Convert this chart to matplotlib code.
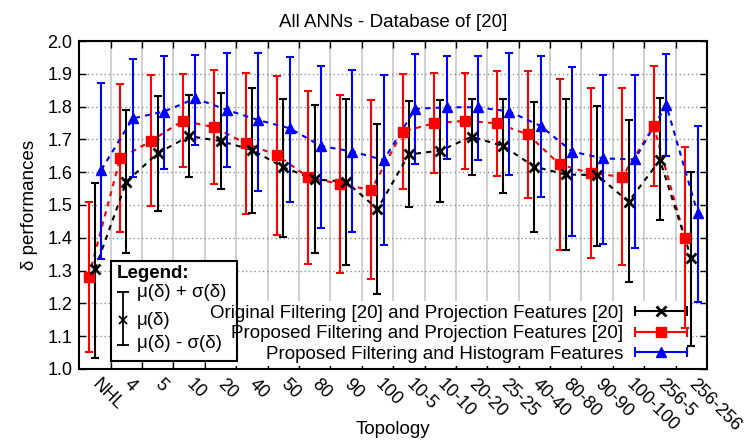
import matplotlib
matplotlib.use("Agg")
import matplotlib.pyplot as plt
import numpy as np
from matplotlib.lines import Line2D
from matplotlib.patches import Rectangle
from matplotlib.legend_handler import HandlerBase

plt.rcParams['font.family'] = ['Liberation Sans', 'DejaVu Sans']

categories = ['NHL', '4', '5', '10', '20', '40', '50', '80', '90', '100',
              '10-5', '10-10', '20-20', '25-25', '40-40', '80-80', '90-90',
              '100-100', '256-5', '256-256']

# Original Filtering [20] and Projection Features [20]
orig_mean = [1.304, 1.571, 1.658, 1.710, 1.695, 1.668, 1.615, 1.578, 1.571, 1.488,
             1.654, 1.666, 1.708, 1.680, 1.617, 1.593, 1.591, 1.510, 1.637, 1.337]
orig_hi = [1.566, 1.790, 1.833, 1.835, 1.842, 1.856, 1.822, 1.805, 1.822, 1.746,
           1.817, 1.820, 1.822, 1.822, 1.815, 1.822, 1.803, 1.759, 1.825, 1.602]
orig_lo = [1.035, 1.355, 1.482, 1.586, 1.549, 1.477, 1.401, 1.353, 1.317, 1.229,
           1.495, 1.510, 1.591, 1.536, 1.419, 1.363, 1.376, 1.266, 1.454, 1.070]

# Proposed Filtering and Projection Features [20]
prop_mean = [1.281, 1.642, 1.696, 1.757, 1.737, 1.688, 1.652, 1.584, 1.564, 1.546,
             1.724, 1.749, 1.757, 1.749, 1.715, 1.624, 1.597, 1.586, 1.741, 1.398]
prop_hi = [1.510, 1.869, 1.896, 1.899, 1.912, 1.903, 1.893, 1.849, 1.835, 1.820,
           1.899, 1.901, 1.903, 1.910, 1.909, 1.883, 1.858, 1.856, 1.924, 1.676]
prop_lo = [1.051, 1.417, 1.497, 1.615, 1.563, 1.472, 1.409, 1.319, 1.294, 1.274,
           1.549, 1.599, 1.609, 1.589, 1.520, 1.363, 1.337, 1.317, 1.559, 1.124]

# Proposed Filtering and Histogram Features
hist_mean = [1.607, 1.764, 1.785, 1.825, 1.790, 1.759, 1.734, 1.680, 1.663, 1.637,
             1.793, 1.798, 1.798, 1.785, 1.741, 1.663, 1.642, 1.639, 1.805, 1.475]
hist_hi = [1.873, 1.944, 1.955, 1.957, 1.962, 1.964, 1.952, 1.924, 1.912, 1.896,
           1.959, 1.954, 1.954, 1.964, 1.954, 1.920, 1.897, 1.897, 1.959, 1.741]
hist_lo = [1.334, 1.586, 1.611, 1.682, 1.615, 1.543, 1.508, 1.431, 1.419, 1.378,
           1.624, 1.639, 1.637, 1.591, 1.525, 1.405, 1.381, 1.370, 1.649, 1.205]

labels = ['Original Filtering [20] and Projection Features [20]',
          'Proposed Filtering and Projection Features [20]',
          'Proposed Filtering and Histogram Features']

FS = 13.5


class HandlerKeyBar(HandlerBase):
    # gnuplot style key sample: horizontal bar with end caps and the point marker
    def create_artists(self, legend, orig_handle, xdescent, ydescent,
                       width, height, fontsize, trans):
        c = orig_handle.get_color()
        y = height / 2 - ydescent
        x0, x1 = -xdescent, width - xdescent
        line = Line2D([x0, x1], [y, y], color=c, lw=1.5)
        caps = Line2D([x0, x1], [y, y], color=c, lw=0, marker='|', ms=7, mew=1.5)
        mark = Line2D([(x0 + x1) / 2], [y], color=c, lw=0,
                      marker=orig_handle.get_marker(),
                      ms=orig_handle.get_markersize(),
                      mew=orig_handle.get_markeredgewidth())
        for a in (line, caps, mark):
            a.set_transform(trans)
        return [line, caps, mark]


fig = plt.figure(figsize=(7.44, 4.41), dpi=100)
ax = fig.add_axes([0.1066, 0.1633, 0.8437, 0.7437])

x = np.arange(len(categories))
series = [
    (prop_mean, prop_lo, prop_hi, -0.2, '#ff0000', 's', 7.5, 1.0),
    (orig_mean, orig_lo, orig_hi, 0.0, '#000000', 'x', 6.5, 2.0),
    (hist_mean, hist_lo, hist_hi, 0.2, '#0000ff', '^', 7.5, 1.0),
]
handles = {}
for mean, lo, hi, off, col, mk, ms, mew in series:
    mean = np.array(mean)
    yerr = [mean - np.array(lo), np.array(hi) - mean]
    ax.errorbar(x + off, mean, yerr=yerr, fmt='none', ecolor=col, elinewidth=1.5,
                capsize=2.8, capthick=1.5, zorder=3)
    ax.plot(x + off, mean, color=col, lw=1.5, ls=(0, (2.5, 2.5)), zorder=3)
    ax.plot(x + off, mean, color=col, lw=0, marker=mk, ms=ms, mew=mew, zorder=4)
    handles[col] = Line2D([], [], color=col, marker=mk, ms=ms, mew=mew)

ax.set_xlim(-0.5, 19.5)
ax.set_ylim(1.0, 2.0)
ax.set_yticks(np.arange(1.0, 2.01, 0.1))
ax.set_yticklabels([f'{v:.1f}' for v in np.arange(1.0, 2.01, 0.1)], fontsize=13)
ax.set_xticks(x)
ax.set_xticklabels(categories, fontsize=13, rotation=-45, ha='left', va='center',
                   rotation_mode='anchor')
ax.set_xticks(x[:-1] + 0.5, minor=True)
ax.tick_params(axis='x', which='major', length=0, pad=9)
ax.tick_params(axis='x', which='minor', direction='in', length=5, width=1,
               top=True, bottom=True)
ax.tick_params(axis='y', direction='in', length=5, width=1, right=True, pad=5)

ax.grid(True, axis='x', which='minor', color='#c8c8c8', lw=1.2, ls='-')
ax.grid(True, axis='y', which='major', color='#909090', lw=1, ls=(0, (1, 2)))
ax.set_axisbelow(True)
for s in ax.spines.values():
    s.set_linewidth(1.5)

ax.set_title('All ANNs - Database of [20]', fontsize=FS, pad=10)
ax.set_xlabel('Topology', fontsize=FS)
ax.xaxis.label.set_va('center')
ax.xaxis.set_label_coords(0.5, -0.186)
ax.set_ylabel('δ performances', fontsize=FS)
ax.yaxis.set_label_coords(-0.066, 0.5)

leg = ax.legend([handles['#000000'], handles['#ff0000'], handles['#0000ff']], labels,
                handler_map={Line2D: HandlerKeyBar()}, loc='lower right',
                bbox_to_anchor=(0.9737, 0.008), borderaxespad=0,
                markerfirst=False, fontsize=FS, frameon=False,
                handlelength=2.76, handletextpad=0.62, labelspacing=0.17,
                borderpad=0.2)
leg.set_zorder(2.5)

# white patch behind the key so the grid does not show through it
fig.canvas.draw()
bb = leg.get_window_extent().transformed(ax.transAxes.inverted())
ax.add_patch(Rectangle((bb.x0, bb.y0), bb.width, bb.height, transform=ax.transAxes,
                       facecolor='white', edgecolor='none', zorder=1.5))

# small explanatory box in the lower left
ax.add_patch(Rectangle((0.050, 0.024), 0.201, 0.305, transform=ax.transAxes,
                       facecolor='white', edgecolor='black', lw=1.5, zorder=2))
ax.text(0.060, 0.292, 'Legend:', transform=ax.transAxes, fontsize=FS,
        fontweight='bold', va='center', ha='left', zorder=6)
ax.plot([0.070, 0.070], [0.073, 0.236], transform=ax.transAxes, color='black',
        lw=1.3, zorder=6)
ax.plot([0.070, 0.070], [0.073, 0.236], transform=ax.transAxes, color='black',
        lw=0, marker='_', ms=8, mew=1.3, zorder=6)
ax.plot([0.070], [0.149], transform=ax.transAxes, color='black', lw=0,
        marker='x', ms=6, mew=1.3, zorder=6)
for ty, txt in [(0.232, 'μ(δ) + σ(δ)'), (0.149, 'μ(δ)'), (0.079, 'μ(δ) - σ(δ)')]:
    ax.text(0.0914, ty, txt, transform=ax.transAxes, fontsize=FS, va='center',
            ha='left', zorder=6)

fig.savefig('out.png', dpi=100)
